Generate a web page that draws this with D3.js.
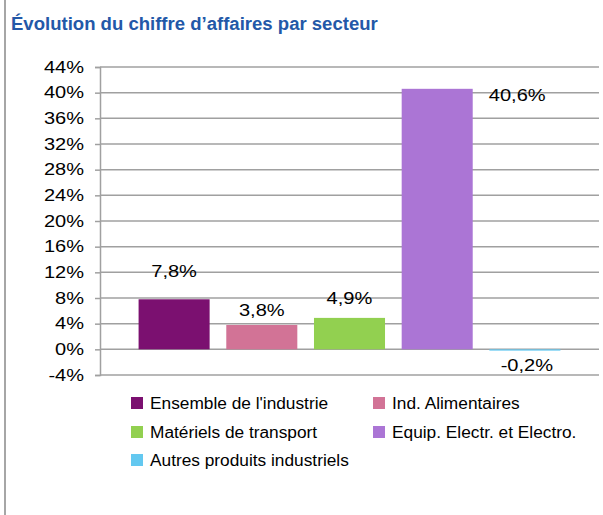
<!DOCTYPE html>
<html>
<head>
<meta charset="utf-8">
<script src="https://cdn.jsdelivr.net/npm/d3@7"></script>
<style>
  body { margin: 0; background: #fff; }
  text { font-family: "Liberation Sans", Arial, sans-serif; fill: #000; }
</style>
</head>
<body>
<div id="chart"></div>
<script>
const title = "Évolution du chiffre d’affaires par secteur"
const secteurs = ["Ensemble de l'industrie", "Ind. Alimentaires", "Matériels de transport",
    "Equip. Electr. et Electro.", "Autres produits industriels"]
const evolution = [7.8, 3.8, 4.9, 40.6, -0.2]
const couleurs = ["#7b1070", "#d27396", "#92d050", "#ab75d5", "#63c8f0"]
const yTicks = d3.range(-4, 45, 4)

// label nudges (pixels), hand placed like in the original
const labelDx = [0, 0, 0, 80, 2]
const labelDy = [-28, -14, -19, 7, 15]

const width = 603, height = 515
const svg = d3.select("#chart")
    .append("svg")
    .attr("width", width)
    .attr("height", height);

// stretch text horizontally a bit, the original is wider than Arial
function stretch(sel, k) {
    sel.each(function () {
        const w = this.getComputedTextLength();
        d3.select(this).attr("textLength", w * k).attr("lengthAdjust", "spacingAndGlyphs");
    });
}

// left border
svg.append("line")
    .attr("x1", 5).attr("x2", 5)
    .attr("y1", 0).attr("y2", height)
    .style("stroke", "#a6a6a6")
    .style("stroke-width", 2);

svg.append("text")
    .attr("x", 11)
    .attr("y", 30)
    .style("font-size", "18px")
    .style("font-weight", "bold")
    .style("fill", "#2358a8")
    .text(title)
    .call(stretch, 1.03);

const x = d3.scaleBand()
    .domain(secteurs)
    .range([100, 599])
    .paddingInner(0.19)
    .paddingOuter(0.44);

const y = d3.scaleLinear()
    .domain([-4, 44])
    .range([375, 67]);

// gridlines
svg.append("g")
    .selectAll("line")
    .data(yTicks)
    .join("line")
    .attr("x1", 100)
    .attr("x2", 599)
    .attr("y1", d => y(d))
    .attr("y2", d => y(d))
    .style("stroke", "#a0a0a0")
    .style("stroke-width", 1.5);

const yAxis = svg.append("g")
    .attr("transform", "translate(100,0)")
    .call(d3.axisLeft(y).tickValues(yTicks).tickSize(5).tickPadding(11).tickFormat(d => d + "%"));
yAxis.select(".domain").style("stroke", "#a0a0a0").style("stroke-width", 1.5);
yAxis.selectAll(".tick line").style("stroke", "#a0a0a0").style("stroke-width", 1.5);
yAxis.selectAll(".tick text")
    .style("font-size", "16px")
    .style("font-family", "'Liberation Sans', Arial, sans-serif")
    .style("fill", "#000")
    .call(stretch, 1.25);

// bars
svg.append("g")
    .selectAll("rect")
    .data(evolution)
    .join("rect")
    .attr("x", (d, i) => x(secteurs[i]))
    .attr("width", x.bandwidth())
    .attr("y", d => y(Math.max(0, d)))
    .attr("height", d => Math.abs(y(d) - y(0)))
    .attr("fill", (d, i) => couleurs[i]);

// value labels
svg.append("g")
    .selectAll("text")
    .data(evolution)
    .join("text")
    .attr("x", (d, i) => x(secteurs[i]) + x.bandwidth() / 2 + labelDx[i])
    .attr("y", (d, i) => y(d) + labelDy[i])
    .attr("text-anchor", "middle")
    .attr("dominant-baseline", "central")
    .style("font-size", "17px")
    .text(d => d.toFixed(1).replace(".", ",") + "%")
    .call(stretch, 1.18);

// legend
const legendPos = [[131, 403], [373, 403], [131, 432], [373, 432], [131, 460]]
const legend = svg.append("g")
    .selectAll("g")
    .data(secteurs)
    .join("g")
    .attr("transform", (d, i) => "translate(" + legendPos[i][0] + "," + legendPos[i][1] + ")");

legend.append("rect")
    .attr("x", 0)
    .attr("y", -6)
    .attr("width", 12)
    .attr("height", 12)
    .attr("fill", (d, i) => couleurs[i]);

legend.append("text")
    .attr("x", 19)
    .attr("y", 0)
    .attr("dominant-baseline", "central")
    .style("font-size", "16px")
    .text(d => d)
    .call(stretch, 1.08);
</script>
</body>
</html>
